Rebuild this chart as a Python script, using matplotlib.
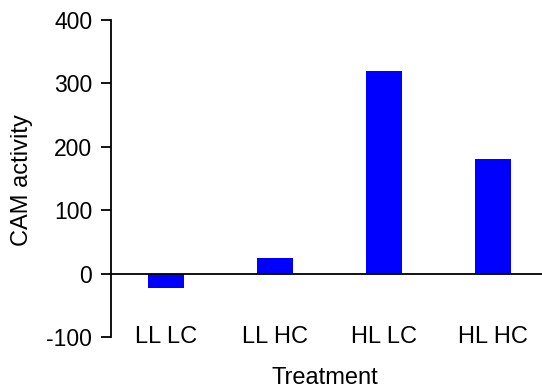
import matplotlib
matplotlib.use('Agg')
import matplotlib.pyplot as plt

treatments = ['LL LC', 'LL HC', 'HL LC', 'HL HC']
cam_activity = [-22, 24, 320, 180]
y_ticks = [-100, 0, 100, 200, 300, 400]

plt.rcParams['font.family'] = ['Liberation Sans', 'DejaVu Sans']

W, H = 542, 391
fig = plt.figure(figsize=(W / 100, H / 100), dpi=100)
ax = fig.add_axes([111 / W, 1 - 337 / H, 1 - 111 / W, (337 - 20) / H])

x = range(len(treatments))
ax.bar(x, cam_activity, width=0.33, color='#0000ff', zorder=2)
ax.axhline(0, color='black', lw=1.3, zorder=3)

ax.set_xlim(-0.505, 3.45)
ax.set_ylim(-100, 400)
ax.set_yticks(y_ticks)
ax.set_yticklabels([str(v) for v in y_ticks], fontsize=16.5)
ax.tick_params(axis='y', direction='out', length=7, width=1.3, pad=6.5)
ax.set_xticks([])

for s in ['top', 'right', 'bottom']:
    ax.spines[s].set_visible(False)
ax.spines['left'].set_linewidth(1.3)

for xi, name in zip(x, treatments):
    ax.text(xi, -100, name, ha='center', va='center', fontsize=17)

fig.text(21.7 / W, 1 - 180 / H, 'CAM activity', rotation=90,
         ha='center', va='center', fontsize=17)
fig.text(325 / W, 1 - 378 / H, 'Treatment', ha='center', va='center', fontsize=17)

fig.savefig('out.png', dpi=100)
